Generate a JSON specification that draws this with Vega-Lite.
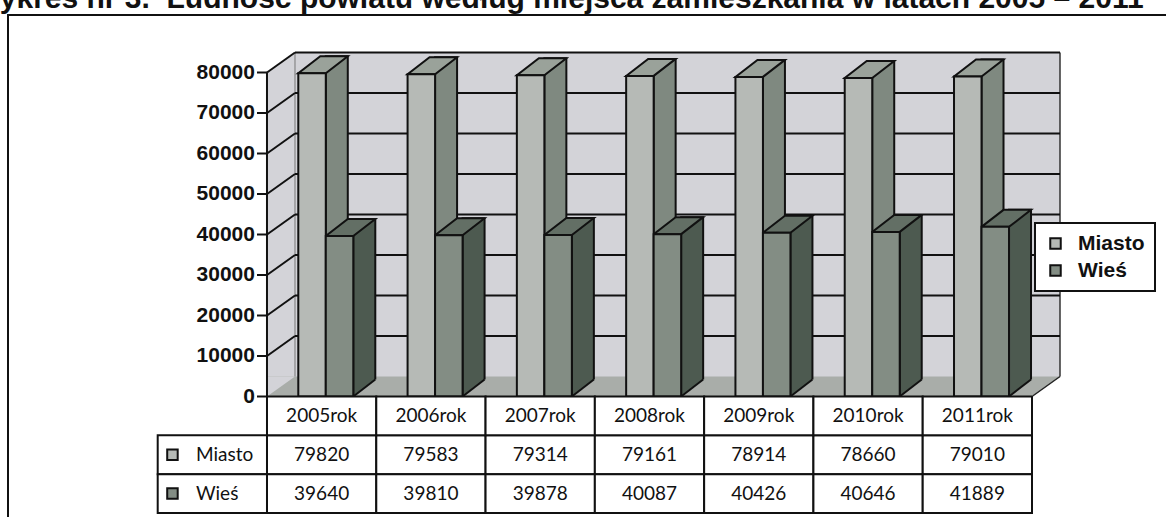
{
"$schema":"https://vega.github.io/schema/vega-lite/v6.json",
"width":1162,"height":505,
"autosize":{"type":"none"},
"padding":{"left":8,"top":15,"right":-4,"bottom":-3},
"background":"white",
"title":{"text":"Wykres nr 3.\u00a0 Ludność powiatu według miejsca zamieszkania w latach 2005 – 2011","anchor":"start","frame":"group","offset":-23,"dx":-36,"baseline":"alphabetic","font":"Liberation Sans","fontSize":30,"fontWeight":"bold","color":"#111"},
"datasets":{
"dane":[
{"rok":"2005rok","seria":"Miasto","wartosc":79820},
{"rok":"2006rok","seria":"Miasto","wartosc":79583},
{"rok":"2007rok","seria":"Miasto","wartosc":79314},
{"rok":"2008rok","seria":"Miasto","wartosc":79161},
{"rok":"2009rok","seria":"Miasto","wartosc":78914},
{"rok":"2010rok","seria":"Miasto","wartosc":78660},
{"rok":"2011rok","seria":"Miasto","wartosc":79010},
{"rok":"2005rok","seria":"Wieś","wartosc":39640},
{"rok":"2006rok","seria":"Wieś","wartosc":39810},
{"rok":"2007rok","seria":"Wieś","wartosc":39878},
{"rok":"2008rok","seria":"Wieś","wartosc":40087},
{"rok":"2009rok","seria":"Wieś","wartosc":40426},
{"rok":"2010rok","seria":"Wieś","wartosc":40646},
{"rok":"2011rok","seria":"Wieś","wartosc":41889}
],
"podzialka":[{"v":0},{"v":10000},{"v":20000},{"v":30000},{"v":40000},{"v":50000},{"v":60000},{"v":70000},{"v":80000}],
"jeden":[{}]
},
"resolve":{"scale":{"y":"independent"}},
"layer":[
{
"resolve":{"scale":{"xOffset":"independent"}},
"layer":[
{"data":{"name":"jeden"},
 "mark":{"type":"rect","fill":"#d3d3d8","x2Offset":28,"yOffset":-20},
 "encoding":{
  "x":{"datum":"2005rok","type":"nominal","bandPosition":0,"axis":null,"scale":{"type":"band","domain":["etykieta","2005rok","2006rok","2007rok","2008rok","2009rok","2010rok","2011rok"],"range":[149.7,1024],"paddingInner":0,"paddingOuter":0}},
  "x2":{"datum":"2011rok","bandPosition":1},
  "y":{"datum":80000,"type":"quantitative","axis":null,"scale":{"domain":[0,80000],"range":[381.5,57.5],"nice":false}},
  "y2":{"datum":0}
 }},
{"data":{"name":"jeden"},
 "mark":{"type":"rect","fill":"#a9ada9","x2Offset":28,"yOffset":-20},
 "encoding":{
  "x":{"datum":"2005rok","type":"nominal","bandPosition":0,"axis":null},
  "x2":{"datum":"2011rok","bandPosition":1},
  "y":{"datum":0,"type":"quantitative","axis":null},
  "y2":{"datum":0}
 }},
{"data":{"name":"jeden"},
 "mark":{"type":"point","shape":"M0,0L28,-20L28,-23L0,-23Z","size":4,"filled":true,"fill":"white","strokeWidth":0,"opacity":1},
 "encoding":{
  "x":{"datum":"2005rok","type":"nominal","bandPosition":0,"axis":null},
  "y":{"datum":80000,"type":"quantitative","axis":null}
 }},
{"data":{"name":"jeden"},
 "mark":{"type":"point","shape":"M0,0L28,-20L0,-20Z","size":4,"filled":true,"fill":"#d3d3d8","strokeWidth":0,"opacity":1},
 "encoding":{
  "x":{"datum":"2005rok","type":"nominal","bandPosition":0,"axis":null},
  "y":{"datum":0,"type":"quantitative","axis":null}
 }},
{"data":{"name":"jeden"},
 "mark":{"type":"point","shape":"M0,0L28,-20L31,-20L31,3L0,3Z","size":4,"filled":true,"fill":"white","strokeWidth":0,"opacity":1},
 "encoding":{
  "x":{"datum":"2011rok","type":"nominal","bandPosition":1,"axis":null},
  "y":{"datum":0,"type":"quantitative","axis":null}
 }},
{"data":{"name":"jeden"},
 "mark":{"type":"rule","stroke":"#333","strokeWidth":1.5,"xOffset":28,"yOffset":-20,"y2Offset":-20},
 "encoding":{
  "x":{"datum":"2011rok","type":"nominal","bandPosition":1,"axis":null},
  "y":{"datum":80000,"type":"quantitative","axis":null},
  "y2":{"datum":0}
 }},
{"data":{"name":"jeden"},
 "mark":{"type":"rule","stroke":"#777","strokeWidth":1,"xOffset":28,"yOffset":-20,"y2Offset":-20},
 "encoding":{
  "x":{"datum":"2005rok","type":"nominal","bandPosition":0,"axis":null},
  "y":{"datum":80000,"type":"quantitative","axis":null},
  "y2":{"datum":0}
 }},
{"data":{"name":"podzialka"},
 "transform":[{"filter":"datum.v > 0"}],
 "mark":{"type":"rule","stroke":"#111","strokeWidth":2,"xOffset":28,"x2Offset":28,"yOffset":-20},
 "encoding":{
  "x":{"datum":"2005rok","type":"nominal","bandPosition":0,"axis":null},
  "x2":{"datum":"2011rok","bandPosition":1},
  "y":{"field":"v","type":"quantitative","axis":null,"title":null}
 }},
{"data":{"name":"podzialka"},
 "transform":[{"filter":"datum.v > 0"}],
 "mark":{"type":"rule","stroke":"#111","strokeWidth":2,"x2Offset":28,"y2Offset":-20},
 "encoding":{
  "x":{"datum":"2005rok","type":"nominal","bandPosition":0,"axis":null},
  "x2":{"datum":"2005rok","bandPosition":0},
  "y":{"field":"v","type":"quantitative","axis":null,"title":null},
  "y2":{"field":"v"}
 }},
{"data":{"name":"jeden"},
 "mark":{"type":"rule","stroke":"#111","strokeWidth":2},
 "encoding":{
  "x":{"datum":"2005rok","type":"nominal","bandPosition":0,"axis":null},
  "y":{"datum":80000,"type":"quantitative","axis":null},
  "y2":{"datum":0}
 }},
{"data":{"name":"podzialka"},
 "mark":{"type":"rule","stroke":"#111","strokeWidth":2,"xOffset":-10},
 "encoding":{
  "x":{"datum":"2005rok","type":"nominal","bandPosition":0,"axis":null},
  "x2":{"datum":"2005rok","bandPosition":0},
  "y":{"field":"v","type":"quantitative","axis":null,"title":null}
 }},
{"data":{"name":"podzialka"},
 "mark":{"type":"text","align":"right","baseline":"middle","dx":-12,"font":"Liberation Sans","fontWeight":"bold","fontSize":21,"color":"#111"},
 "encoding":{
  "x":{"datum":"2005rok","type":"nominal","bandPosition":0,"axis":null},
  "y":{"field":"v","type":"quantitative","axis":null,"title":null},
  "text":{"field":"v","type":"quantitative","format":"d"}
 }},
{"data":{"name":"jeden"},
 "mark":{"type":"point","shape":"M0,0L28,-20","size":4,"filled":false,"stroke":"#222","strokeWidth":1.5,"opacity":1},
 "encoding":{
  "x":{"datum":"2011rok","type":"nominal","bandPosition":1,"axis":null},
  "y":{"datum":0,"type":"quantitative","axis":null}
 }},
{"data":{"name":"dane"},
 "mark":{"type":"bar","yOffset":-17,"stroke":"#111","strokeWidth":2},
 "encoding":{
  "x":{"field":"rok","type":"nominal","axis":null},
  "xOffset":{"field":"seria","type":"nominal","scale":{"type":"band","domain":["Miasto","Wieś"],"range":[58.8,108.3],"paddingInner":0.2,"paddingOuter":0}},
  "y":{"field":"wartosc","type":"quantitative","axis":null,"title":null},
  "y2":{"datum":0},
  "fill":{"condition":{"test":"datum.seria === 'Miasto'","value":"#7f8980"},"value":"#4d5a50"}
 }},
{"data":{"name":"dane"},
 "mark":{"type":"point","shape":"M-13.75,0L13.75,0L35.75,-17L8.25,-17Z","size":4,"filled":true,"stroke":"#111","strokeWidth":2,"opacity":1},
 "encoding":{
  "x":{"field":"rok","type":"nominal","axis":null},
  "xOffset":{"field":"seria","type":"nominal","scale":{"type":"band","domain":["Miasto","Wieś"],"range":[31.3,86.3],"paddingInner":0,"paddingOuter":0}},
  "y":{"field":"wartosc","type":"quantitative","axis":null,"title":null},
  "fill":{"condition":{"test":"datum.seria === 'Miasto'","value":"#9aa29a"},"value":"#636f65"}
 }},
{"data":{"name":"dane"},
 "mark":{"type":"point","shape":"M13.75,0L35.75,-17L37.75,-17L37.75,1L13.75,1Z","size":4,"filled":true,"fill":"#a9ada9","strokeWidth":0,"opacity":1},
 "encoding":{
  "x":{"field":"rok","type":"nominal","axis":null},
  "xOffset":{"field":"seria","type":"nominal","scale":{"type":"band","domain":["Miasto","Wieś"],"range":[31.3,86.3],"paddingInner":0,"paddingOuter":0}},
  "y":{"datum":0,"type":"quantitative","axis":null}
 }},
{"data":{"name":"dane"},
 "mark":{"type":"point","shape":"M13.75,0L35.75,-17","size":4,"filled":false,"stroke":"#111","strokeWidth":2,"opacity":1},
 "encoding":{
  "x":{"field":"rok","type":"nominal","axis":null},
  "xOffset":{"field":"seria","type":"nominal","scale":{"type":"band","domain":["Miasto","Wieś"],"range":[31.3,86.3],"paddingInner":0,"paddingOuter":0}},
  "y":{"datum":0,"type":"quantitative","axis":null}
 }},
{"data":{"name":"dane"},
 "mark":{"type":"bar","stroke":"#111","strokeWidth":2},
 "encoding":{
  "x":{"field":"rok","type":"nominal","axis":null},
  "xOffset":{"field":"seria","type":"nominal","scale":{"type":"band","domain":["Miasto","Wieś"],"range":[31.3,86.3],"paddingInner":0,"paddingOuter":0}},
  "y":{"field":"wartosc","type":"quantitative","title":null,"axis":null},
  "y2":{"datum":0},
  "color":{"field":"seria","type":"nominal","scale":{"domain":["Miasto","Wieś"],"range":["#b6bab6","#838d84"]},
   "legend":{"orient":"none","legendX":1027,"legendY":208,"title":null,"symbolType":"square","symbolSize":110,"symbolStrokeColor":"#111","symbolStrokeWidth":2,"labelFont":"Liberation Sans","labelFontWeight":"bold","labelFontSize":21,"labelColor":"#111","labelOffset":12,"rowPadding":5,"padding":10,"strokeColor":"#111","fillColor":"white"}}
 }}
]
},
{
"layer":[
{"data":{"name":"dane"},
 "mark":{"type":"rect","fill":"white","stroke":"#111","strokeWidth":2},
 "encoding":{
  "x":{"field":"rok","type":"nominal","axis":null},
  "y":{"field":"seria","type":"nominal","axis":null,"scale":{"type":"band","domain":["hdr","Miasto","Wieś"],"range":[381.5,498],"paddingInner":0,"paddingOuter":0}}
 }},
{"data":{"name":"dane"},
 "transform":[{"filter":"datum.seria === 'Miasto'"}],
 "mark":{"type":"rect","fill":"white","stroke":"#111","strokeWidth":2},
 "encoding":{
  "x":{"field":"rok","type":"nominal","axis":null},
  "y":{"datum":"hdr","type":"nominal","axis":null}
 }},
{"data":{"name":"dane"},
 "transform":[{"filter":"datum.rok === '2005rok'"}],
 "mark":{"type":"rect","fill":"white","stroke":"#111","strokeWidth":2},
 "encoding":{
  "x":{"datum":"etykieta","type":"nominal","axis":null},
  "y":{"field":"seria","type":"nominal","axis":null}
 }},
{"data":{"name":"dane"},
 "transform":[{"filter":"datum.seria === 'Miasto'"}],
 "mark":{"type":"text","font":"Lato","fontSize":19,"color":"#111","baseline":"middle"},
 "encoding":{
  "x":{"field":"rok","type":"nominal","axis":null},
  "y":{"datum":"hdr","type":"nominal","axis":null},
  "text":{"field":"rok","type":"nominal"}
 }},
{"data":{"name":"dane"},
 "mark":{"type":"text","font":"Lato","fontSize":19,"color":"#111","baseline":"middle"},
 "encoding":{
  "x":{"field":"rok","type":"nominal","axis":null},
  "y":{"field":"seria","type":"nominal","axis":null},
  "text":{"field":"wartosc","type":"quantitative","format":"d"}
 }},
{"data":{"name":"dane"},
 "transform":[{"filter":"datum.rok === '2005rok'"}],
 "mark":{"type":"point","shape":"square","size":110,"filled":true,"stroke":"#111","strokeWidth":2,"opacity":1},
 "encoding":{
  "x":{"datum":"etykieta","type":"nominal","bandPosition":0.135,"axis":null},
  "y":{"field":"seria","type":"nominal","axis":null},
  "color":{"field":"seria","type":"nominal","legend":null}
 }},
{"data":{"name":"dane"},
 "transform":[{"filter":"datum.rok === '2005rok'"}],
 "mark":{"type":"text","font":"Lato","fontSize":19,"color":"#111","baseline":"middle","align":"left"},
 "encoding":{
  "x":{"datum":"etykieta","type":"nominal","bandPosition":0.35,"axis":null},
  "y":{"field":"seria","type":"nominal","axis":null},
  "text":{"field":"seria","type":"nominal"}
 }}
]
}
],
"config":{
 "view":{"stroke":"#111","strokeWidth":2},
 "legend":{"strokeWidth":2}
}
}
